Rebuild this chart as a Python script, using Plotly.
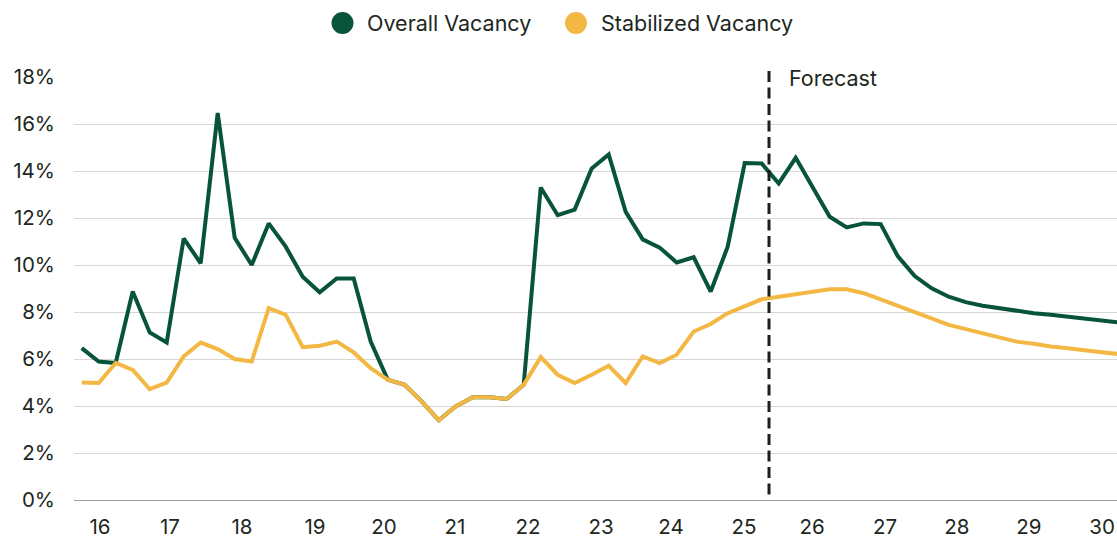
import plotly.graph_objects as go

# ---- data (quarterly points) ----
quarter_index = list(range(62))
overall_vacancy = [
    6.46, 5.89, 5.83, 8.87, 7.13, 6.70, 11.13, 10.07, 16.47, 11.16,
    10.00, 11.77, 10.78, 9.50, 8.84, 9.43, 9.43, 6.74, 5.12, 4.90,
    4.20, 3.39, 3.98, 4.37, 4.37, 4.30, 4.90, 13.30, 12.12, 12.36,
    14.11, 14.70, 12.26, 11.09, 10.74, 10.11, 10.33, 8.87, 10.78, 14.34,
    14.32, 13.47, 14.56, 13.30, 12.05, 11.60, 11.77, 11.74, 10.38, 9.53,
    9.01, 8.65, 8.42, 8.27, 8.16, 8.06, 7.95, 7.88, 7.81, 7.74,
    7.66, 7.56,
]
stabilized_vacancy = [
    5.00, 4.98, 5.83, 5.54, 4.72, 5.00, 6.11, 6.70, 6.42, 6.00,
    5.89, 8.16, 7.88, 6.50, 6.56, 6.74, 6.28, 5.61, 5.12, 4.90,
    4.20, 3.39, 3.98, 4.37, 4.37, 4.30, 4.90, 6.08, 5.33, 4.98,
    5.33, 5.71, 4.98, 6.11, 5.83, 6.18, 7.17, 7.49, 7.95, 8.26,
    8.54, 8.65, 8.75, 8.87, 8.97, 8.97, 8.80, 8.54, 8.27, 7.99,
    7.69, 7.45, 7.27, 7.10, 6.91, 6.74, 6.65, 6.53, 6.46, 6.36,
    6.29, 6.21,
]
year_labels = ["16", "17", "18", "19", "20", "21", "22", "23", "24", "25",
               "26", "27", "28", "29", "30"]
year_label_pos = [1.08, 5.19, 9.43, 13.72, 17.78, 21.96, 26.25, 30.55, 34.66,
                  38.96, 42.96, 47.25, 51.48, 55.72, 60.02]
forecast_start = 40.43
y_ticks = [0, 2, 4, 6, 8, 10, 12, 14, 16, 18]
series_names = ["Overall Vacancy", "Stabilized Vacancy"]

GREEN = "#07543a"
YELLOW = "#f3b843"
TEXT = "#1d2721"
FONT = "Inter"

W, H = 1117, 541
PLOT_L, PLOT_R, PLOT_T, PLOT_B = 74, 1117, 76.6, 500.5  # screen px
L, R, T, B = PLOT_L, W - PLOT_R, PLOT_T, H - PLOT_B
pw, ph = PLOT_R - PLOT_L, PLOT_B - PLOT_T


def px_x(p):
    return (p - PLOT_L) / pw


def px_y(p):
    return (PLOT_B - p) / ph


fig = go.Figure()
fig.add_trace(go.Scatter(x=quarter_index, y=overall_vacancy, mode="lines",
                         name=series_names[0], line=dict(color=GREEN, width=4),
                         showlegend=False))
fig.add_trace(go.Scatter(x=quarter_index, y=stabilized_vacancy, mode="lines",
                         name=series_names[1], line=dict(color=YELLOW, width=4),
                         showlegend=False))

# forecast divider
fig.add_shape(type="line", xref="x", yref="paper", x0=forecast_start, x1=forecast_start,
              y0=px_y(495), y1=px_y(67), line=dict(color="#17221a", width=3, dash="11px,5.5px"))
fig.add_annotation(text="Forecast", xref="paper", yref="paper", x=px_x(787), y=px_y(77.5),
                   xanchor="left", yanchor="middle", showarrow=False,
                   font=dict(family=FONT, size=21.5, color=TEXT))

# legend drawn manually (large circle markers)
legend_items = [(series_names[0], GREEN, 342.5, 365), (series_names[1], YELLOW, 576, 599)]
r = 11
for name, col, cx, tx in legend_items:
    fig.add_shape(type="circle", xref="paper", yref="paper",
                  x0=px_x(cx - r), x1=px_x(cx + r), y0=px_y(22.5 + r), y1=px_y(22.5 - r),
                  fillcolor=col, line=dict(width=0))
    fig.add_annotation(text=name, xref="paper", yref="paper", x=px_x(tx), y=px_y(22.5),
                       xanchor="left", yanchor="middle", showarrow=False,
                       font=dict(family=FONT, size=21.5, color=TEXT))

fig.update_layout(
    width=W, height=H,
    margin=dict(l=L, r=R, t=T, b=B, pad=0),
    plot_bgcolor="white", paper_bgcolor="white",
    font=dict(family=FONT, size=20.5, color=TEXT),
    showlegend=False,
    xaxis=dict(range=[(74 - 81.7) / 17.0, (1117 - 81.7) / 17.0],
               tickmode="array", tickvals=year_label_pos, ticktext=year_labels,
               showgrid=False, zeroline=False, showline=False, ticks="",
               ticklabelstandoff=12, tickfont=dict(family=FONT, size=20.5, color=TEXT)),
    yaxis=dict(range=[0, 18], tickmode="array", tickvals=y_ticks,
               ticktext=[f"{v}%" for v in y_ticks],
               showgrid=True, gridcolor="#d9d6d6", gridwidth=1,
               zeroline=True, zerolinecolor="#a39b99", zerolinewidth=1.2,
               showline=False, ticks="", ticklabelstandoff=18,
               tickfont=dict(family=FONT, size=20.5, color=TEXT)),
)

fig.write_html(
    "out.html",
    config={"displayModeBar": False},
    post_script="document.body.style.margin='0';document.body.style.overflow='hidden';",
)
